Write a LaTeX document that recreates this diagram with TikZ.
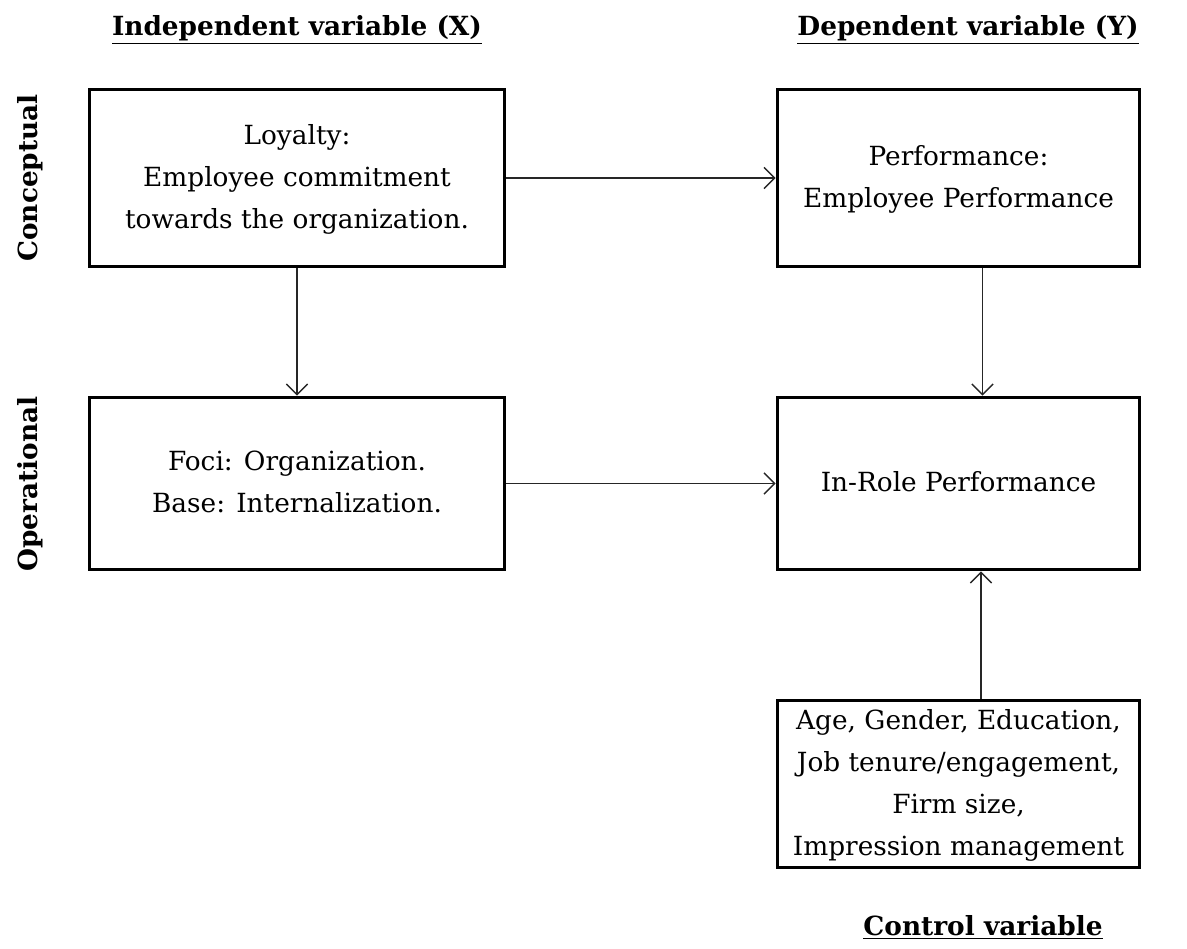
\documentclass[tikz,border=0pt]{standalone}
\usepackage{fontspec}
\setmainfont{DejaVu Serif}
\usetikzlibrary{arrows.meta}
\tikzset{
  box/.style={draw=black,line width=1.7pt,align=center,inner sep=0pt,
    font=\fontsize{15}{23.8}\selectfont},
  head/.style={font=\fontsize{15}{18}\selectfont\bfseries},
  link/.style={-{Straight Barb[length=6pt,width=12pt]},line width=0.8pt,draw=black!85}
}
\begin{document}
\begin{tikzpicture}[x=0.02cm,y=-0.02cm]
    \useasboundingbox (0,0) rectangle (1187,949);

    \node[head] (IndepHead) at (297,30) {\underline{Independent variable (X)}};
    \node[head] (DepHead) at (968,30) {\underline{Dependent variable (Y)}};
    \node[head] (CtrlHead) at (983,927) {\underline{Control variable}};
    \node[head,rotate=90] (Concept) at (30,178) {Conceptual};
    \node[head,rotate=90] (Operat) at (30,484) {Operational};

    \node[box,minimum width=8.32cm,minimum height=3.56cm] (Loyalty) at (297,178)
        {\strut Loyalty:\\Employee commitment\\towards the organization.\strut};
    \node[box,minimum width=7.26cm,minimum height=3.56cm] (Performance) at (958.5,178)
        {\strut Performance:\\Employee Performance\strut};
    \node[box,minimum width=8.32cm,minimum height=3.46cm] (Foci) at (297,483.5)
        {\strut Foci: Organization.\\Base: Internalization.\strut};
    \node[box,minimum width=7.26cm,minimum height=3.46cm] (InRole) at (958.5,483.5)
        {\strut In-Role Performance\strut};
    \node[box,minimum width=7.26cm,minimum height=3.36cm] (Control) at (958.5,784)
        {\strut Age, Gender, Education,\\Job tenure/engagement,\\Firm size,\\Impression management\strut};

    \draw [link] (Loyalty) -- (Performance);
    \draw [link] (Loyalty) -- (Foci);
    \draw [link] (Foci) -- (InRole);
    \draw [link] ([xshift=0.48cm]Performance.south) -- ([xshift=0.48cm]InRole.north);
    \draw [link] ([xshift=0.45cm]Control.north) -- ([xshift=0.45cm]InRole.south);
\end{tikzpicture}
\end{document}
